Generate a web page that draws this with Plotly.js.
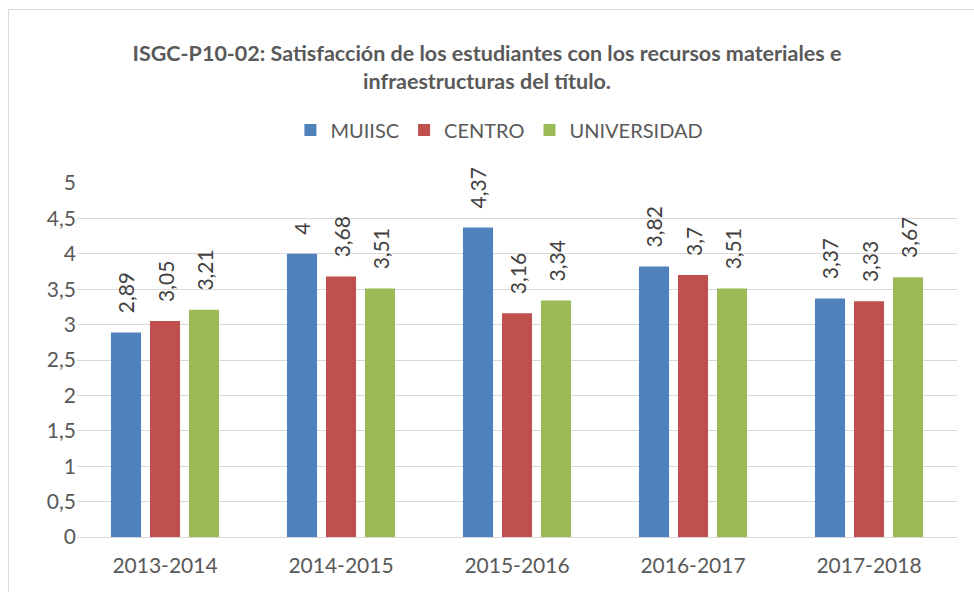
<!DOCTYPE html>
<html><head><meta charset="utf-8">
<script src="https://cdn.plot.ly/plotly-3.0.1.min.js"></script>
<style>body{margin:0;background:#fff}#wrap{position:relative;width:974px;height:592px;overflow:hidden}#chart{width:974px;height:592px}#frame{position:absolute;left:8px;top:9px;width:980px;height:600px;border:1px solid #d9d9d9;pointer-events:none}</style>
</head><body><div id="wrap"><div id="chart"></div><div id="frame"></div></div>
<script>
const categories = ["2013-2014","2014-2015","2015-2016","2016-2017","2017-2018"];
const muiisc = [2.89, 4, 4.37, 3.82, 3.37];
const centro = [3.05, 3.68, 3.16, 3.7, 3.33];
const universidad = [3.21, 3.51, 3.34, 3.51, 3.67];
const seriesNames = ["MUIISC","CENTRO","UNIVERSIDAD"];
const colors = ["#4f81bd","#c0504d","#9bbb59"];
const FONT = "Lato, 'Open Sans', sans-serif";
const fmt = v => "\u00a0\u00a0\u00a0" + String(v).replace('.', ',');
const traces = [muiisc, centro, universidad].map((vals, i) => ({
  type: 'bar', x: categories, y: vals, name: seriesNames[i],
  marker: {color: colors[i]},
  text: vals.map(fmt), textposition: 'outside', textangle: -90,
  textfont: {family: FONT, size: 21, color: '#404040'},
  constraintext: 'none', cliponaxis: false, hoverinfo: 'none'
}));
const layout = {
  width: 974, height: 592,
  margin: {l: 77, r: 17, t: 183, b: 55},
  paper_bgcolor: '#fff', plot_bgcolor: '#fff',
  separators: ',.',
  barmode: 'group', bargap: 0.335, bargroupgap: 0.23,
  font: {family: FONT, size: 20, color: '#595959'},
  title: {text: '<b>ISGC-P10-02: Satisfacción de los estudiantes con los recursos materiales e<br>infraestructuras del título.</b>',
    font: {family: FONT, size: 21.5, color: '#595959'}, x: 0.5, xanchor: 'center', y: 0.897, yanchor: 'middle', yref: 'container'},
  legend: {orientation: 'h', x: 0.48, xanchor: 'center', y: 1.15, yanchor: 'middle',
    font: {family: FONT, size: 20, color: '#595959'}, itemwidth: 30, traceorder: 'normal'},
  xaxis: {showline: true, linecolor: '#d9d9d9', linewidth: 1, ticks: '', ticklabelstandoff: 10, tickfont: {size: 21, color: '#595959'}},
  yaxis: {range: [0, 5], dtick: 0.5, tick0: 0, gridcolor: '#d9d9d9', gridwidth: 1, zeroline: false,
    ticks: '', tickfont: {size: 21, color: '#595959'}},
  showlegend: true
};
Plotly.newPlot('chart', traces, layout, {displayModeBar: false, staticPlot: true});
</script></body></html>
